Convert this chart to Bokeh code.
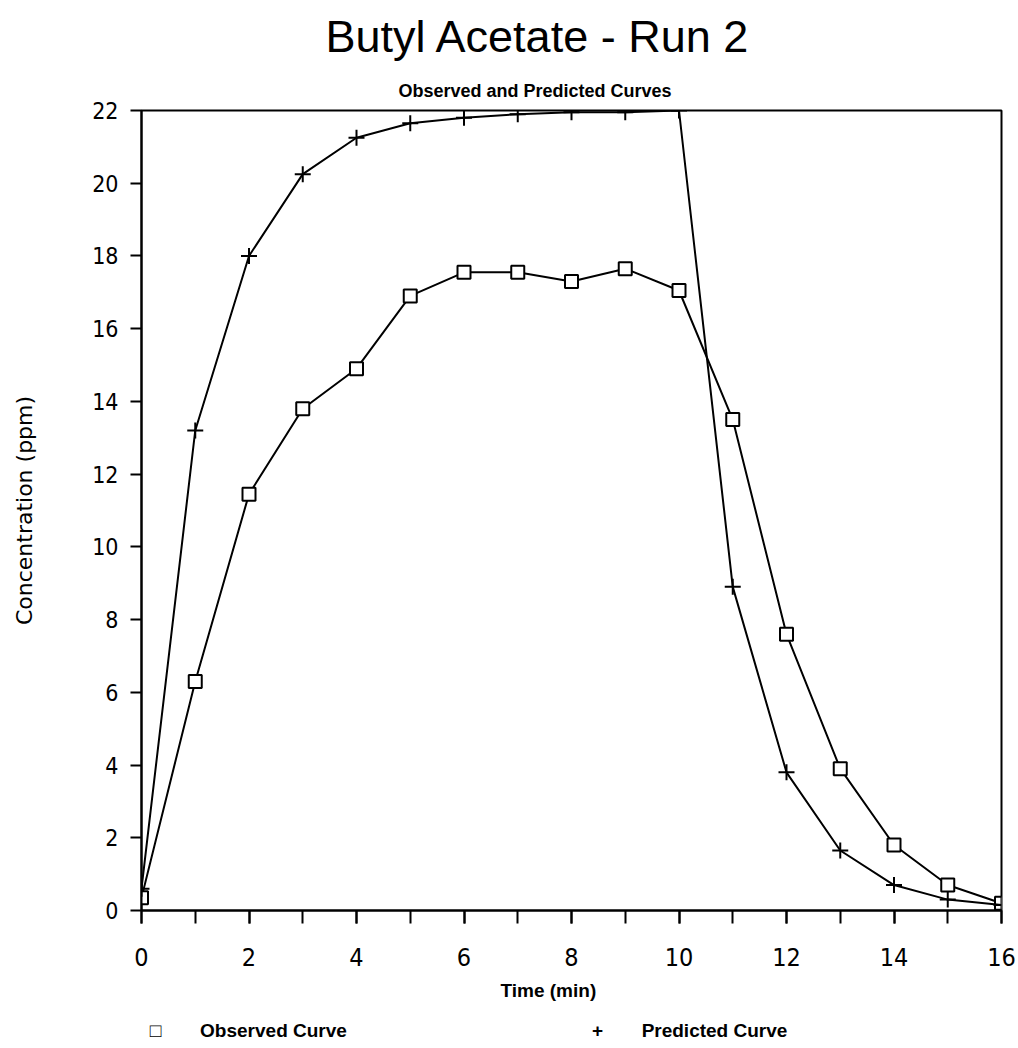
from bokeh.plotting import figure
from bokeh.models import (Range1d, SingleIntervalTicker, FixedTicker, LinearAxis, Title)
from bokeh.embed import file_html
from bokeh.resources import INLINE

# ---- data ----
time_min = [0, 1, 2, 3, 4, 5, 6, 7, 8, 9, 10, 11, 12, 13, 14, 15, 16]
observed = [0.35, 6.3, 11.45, 13.8, 14.9, 16.9, 17.55, 17.55, 17.3, 17.65, 17.05,
            13.5, 7.6, 3.9, 1.8, 0.7, 0.2]
predicted = [0.6, 13.2, 18.0, 20.25, 21.25, 21.65, 21.8, 21.9, 21.95, 21.95, 22.0,
             8.9, 3.8, 1.65, 0.7, 0.3, 0.15]
x_tick_step = 2
y_tick_step = 2

title_text = "Butyl Acetate - Run 2"
subtitle_text = "Observed and Predicted Curves"
x_label = "Time (min)"
y_label = "Concentration (ppm)"
series_names = ["Observed Curve", "Predicted Curve"]
series_keys = ["\u25a1", "+"]

NARROW = "'Liberation Sans Narrow', 'DejaVu Sans Condensed', 'Liberation Sans', sans-serif"
REG = "'Liberation Sans', Arial, sans-serif"

p = figure(frame_width=860, frame_height=800, output_backend="svg", toolbar_location=None,
           x_range=Range1d(0, 16), y_range=Range1d(0, 22),
           min_border_left=141, min_border_right=17,
           min_border_top=110, min_border_bottom=138)
p.background_fill_color = "white"
p.border_fill_color = "white"
p.outline_line_color = "black"
p.outline_line_width = 2
p.xgrid.grid_line_color = None
p.ygrid.grid_line_color = None

# x axis
p.xaxis.ticker = SingleIntervalTicker(interval=x_tick_step, num_minor_ticks=2)
p.xaxis.axis_line_width = 2
p.xaxis.major_tick_line_width = 2
p.xaxis.minor_tick_line_width = 2
p.xaxis.major_tick_in = 0
p.xaxis.major_tick_out = 13
p.xaxis.minor_tick_in = 0
p.xaxis.minor_tick_out = 13
p.xaxis.major_label_standoff = 24
p.xaxis.major_label_text_font = NARROW
p.xaxis.major_label_text_font_size = "25px"
p.xaxis.major_label_text_color = "black"

# y axis
p.yaxis.ticker = SingleIntervalTicker(interval=y_tick_step, num_minor_ticks=0)
p.yaxis.axis_line_width = 2
p.yaxis.major_tick_line_width = 2
p.yaxis.major_tick_in = 0
p.yaxis.major_tick_out = 11
p.yaxis.minor_tick_line_color = None
p.yaxis.major_label_standoff = 12
p.yaxis.major_label_text_font = NARROW
p.yaxis.major_label_text_font_size = "23px"
p.yaxis.major_label_text_color = "black"
p.yaxis.axis_label = y_label
p.yaxis.axis_label_text_font = "'DejaVu Sans', sans-serif"
p.yaxis.axis_label_text_font_style = "normal"
p.yaxis.axis_label_text_font_size = "22px"
p.yaxis.axis_label_text_color = "black"
p.yaxis.axis_label_standoff = 52

# series
p.line(time_min, observed, line_color="black", line_width=2)
p.scatter(time_min, observed, marker="square", size=13, fill_color="white",
          line_color="black", line_width=2)
p.line(time_min, predicted, line_color="black", line_width=2)
p.scatter(time_min, predicted, marker="cross", size=16,
          line_color="black", line_width=2)

# titles above the plot (first added = closest to the frame)
p.add_layout(Title(text=subtitle_text, align="left", offset=257, standoff=19,
                   text_font=REG, text_font_size="18px", text_font_style="bold",
                   text_color="black"), "above")
p.add_layout(Title(text=title_text, align="left", offset=184, standoff=16,
                   text_font=REG, text_font_size="45px", text_font_style="normal",
                   text_color="black"), "above")

# x-axis title below the axis
p.add_layout(Title(text=x_label, align="left", offset=359, standoff=18,
                   text_font=REG, text_font_size="19px", text_font_style="bold",
                   text_color="black"), "below")

# legend row at the bottom: an unlined axis in a pixel range carrying key + label texts
p.extra_x_ranges = {"legend_px": Range1d(0, 860)}
legend_pos = [14, 132, 456, 573]
legend_txt = [series_keys[0], series_names[0], series_keys[1], series_names[1]]
legend_axis = LinearAxis(x_range_name="legend_px",
                         ticker=FixedTicker(ticks=legend_pos),
                         major_label_overrides=dict(zip(legend_pos, legend_txt)),
                         axis_line_color=None, major_tick_line_color=None,
                         minor_tick_line_color=None, major_tick_out=0, major_tick_in=0,
                         major_label_standoff=10,
                         major_label_text_font=REG, major_label_text_font_size="19px",
                         major_label_text_font_style="bold",
                         major_label_text_color="black")
p.add_layout(legend_axis, "below")

open("out.html", "w").write(file_html(p, INLINE))
